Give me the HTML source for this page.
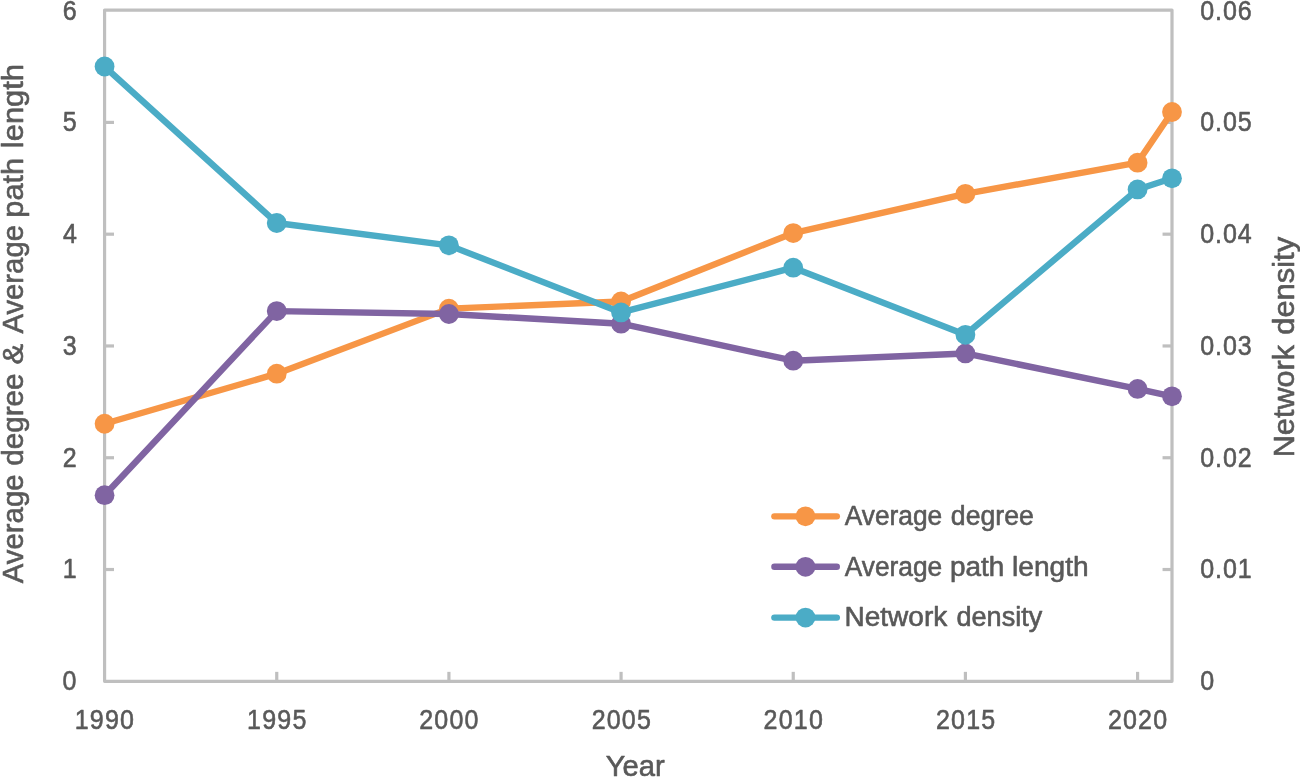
<!DOCTYPE html>
<html lang="en">
<head>
<meta charset="utf-8">
<title>Network metrics chart</title>
<style>
html,body{margin:0;padding:0;background:#fff;}
body{width:1300px;height:777px;overflow:hidden;}
svg{display:block;}
svg text{font-family:"Liberation Sans",Arial,sans-serif;fill:#595959;stroke:#595959;stroke-width:0.60px;stroke-linejoin:round;}
</style>
</head>
<body>
<svg width="1300" height="777" viewBox="0 0 1300 777">
<rect x="0" y="0" width="1300" height="777" fill="#ffffff"/>
<g fill="none" stroke="#BFBFBF" stroke-width="3.20" stroke-linecap="butt" stroke-linejoin="round">
<rect x="104.58" y="10.10" width="1067.42" height="671.20"/>
<line x1="104.58" y1="569.52" x2="114.03" y2="569.52"/>
<line x1="1172.00" y1="569.52" x2="1162.55" y2="569.52"/>
<line x1="104.58" y1="457.74" x2="114.03" y2="457.74"/>
<line x1="1172.00" y1="457.74" x2="1162.55" y2="457.74"/>
<line x1="104.58" y1="345.96" x2="114.03" y2="345.96"/>
<line x1="1172.00" y1="345.96" x2="1162.55" y2="345.96"/>
<line x1="104.58" y1="234.18" x2="114.03" y2="234.18"/>
<line x1="1172.00" y1="234.18" x2="1162.55" y2="234.18"/>
<line x1="104.58" y1="122.40" x2="114.03" y2="122.40"/>
<line x1="1172.00" y1="122.40" x2="1162.55" y2="122.40"/>
<line x1="276.74" y1="681.30" x2="276.74" y2="671.85"/>
<line x1="448.91" y1="681.30" x2="448.91" y2="671.85"/>
<line x1="621.07" y1="681.30" x2="621.07" y2="671.85"/>
<line x1="793.24" y1="681.30" x2="793.24" y2="671.85"/>
<line x1="965.40" y1="681.30" x2="965.40" y2="671.85"/>
<line x1="1137.57" y1="681.30" x2="1137.57" y2="671.85"/>
</g>
<g><polyline fill="none" stroke="#F79646" stroke-width="6.40" stroke-linejoin="round" stroke-linecap="round" points="104.58,423.76 276.74,373.68 448.91,308.63 621.07,301.47 793.24,233.06 965.40,193.83 1137.57,162.64 1172.00,112.00"/>
<circle cx="104.58" cy="423.76" r="9.90" fill="#F79646"/>
<circle cx="276.74" cy="373.68" r="9.90" fill="#F79646"/>
<circle cx="448.91" cy="308.63" r="9.90" fill="#F79646"/>
<circle cx="621.07" cy="301.47" r="9.90" fill="#F79646"/>
<circle cx="793.24" cy="233.06" r="9.90" fill="#F79646"/>
<circle cx="965.40" cy="193.83" r="9.90" fill="#F79646"/>
<circle cx="1137.57" cy="162.64" r="9.90" fill="#F79646"/>
<circle cx="1172.00" cy="112.00" r="9.90" fill="#F79646"/>
</g>
<g><polyline fill="none" stroke="#8064A2" stroke-width="6.40" stroke-linejoin="round" stroke-linecap="round" points="104.58,495.19 276.74,311.08 448.91,313.99 621.07,323.72 793.24,360.71 965.40,353.45 1137.57,388.88 1172.00,396.37"/>
<circle cx="104.58" cy="495.19" r="9.90" fill="#8064A2"/>
<circle cx="276.74" cy="311.08" r="9.90" fill="#8064A2"/>
<circle cx="448.91" cy="313.99" r="9.90" fill="#8064A2"/>
<circle cx="621.07" cy="323.72" r="9.90" fill="#8064A2"/>
<circle cx="793.24" cy="360.71" r="9.90" fill="#8064A2"/>
<circle cx="965.40" cy="353.45" r="9.90" fill="#8064A2"/>
<circle cx="1137.57" cy="388.88" r="9.90" fill="#8064A2"/>
<circle cx="1172.00" cy="396.37" r="9.90" fill="#8064A2"/>
</g>
<g><polyline fill="none" stroke="#4BACC6" stroke-width="6.40" stroke-linejoin="round" stroke-linecap="round" points="104.58,66.51 276.74,223.00 448.91,245.36 621.07,312.43 793.24,267.71 965.40,334.78 1137.57,189.47 1172.00,178.29"/>
<circle cx="104.58" cy="66.51" r="9.90" fill="#4BACC6"/>
<circle cx="276.74" cy="223.00" r="9.90" fill="#4BACC6"/>
<circle cx="448.91" cy="245.36" r="9.90" fill="#4BACC6"/>
<circle cx="621.07" cy="312.43" r="9.90" fill="#4BACC6"/>
<circle cx="793.24" cy="267.71" r="9.90" fill="#4BACC6"/>
<circle cx="965.40" cy="334.78" r="9.90" fill="#4BACC6"/>
<circle cx="1137.57" cy="189.47" r="9.90" fill="#4BACC6"/>
<circle cx="1172.00" cy="178.29" r="9.90" fill="#4BACC6"/>
</g>
<text y="524.90" font-size="26.80"><tspan x="844.70" textLength="97.47" lengthAdjust="spacingAndGlyphs">Average</tspan> <tspan x="950.87" textLength="82.91" lengthAdjust="spacingAndGlyphs">degree</tspan></text>
<text y="575.60" font-size="26.80"><tspan x="844.70" textLength="97.47" lengthAdjust="spacingAndGlyphs">Average</tspan> <tspan x="949.96" textLength="54.31" lengthAdjust="spacingAndGlyphs">path</tspan> <tspan x="1012.14" textLength="76.53" lengthAdjust="spacingAndGlyphs">length</tspan></text>
<text y="626.30" font-size="26.80"><tspan x="844.51" textLength="102.75" lengthAdjust="spacingAndGlyphs">Network</tspan> <tspan x="956.45" textLength="85.85" lengthAdjust="spacingAndGlyphs">density</tspan></text>
<text transform="translate(22.50,583.60) rotate(-90)" y="0" font-size="29.90"><tspan x="0.30" textLength="108.89" lengthAdjust="spacingAndGlyphs">Average</tspan> <tspan x="117.77" textLength="92.43" lengthAdjust="spacingAndGlyphs">degree</tspan> <tspan x="219.13" textLength="20.70" lengthAdjust="spacingAndGlyphs">&amp;</tspan> <tspan x="250.00" textLength="108.59" lengthAdjust="spacingAndGlyphs">Average</tspan> <tspan x="365.98" textLength="59.85" lengthAdjust="spacingAndGlyphs">path</tspan> <tspan x="435.47" textLength="84.17" lengthAdjust="spacingAndGlyphs">length</tspan></text>
<text transform="translate(1294.40,455.20) rotate(-90)" y="0" font-size="29.90"><tspan x="-2.09" textLength="112.42" lengthAdjust="spacingAndGlyphs">Network</tspan> <tspan x="120.43" textLength="97.87" lengthAdjust="spacingAndGlyphs">density</tspan></text>
<text y="776.30" font-size="29.90"><tspan x="605.64" textLength="59.10" lengthAdjust="spacingAndGlyphs">Year</tspan></text>
<text transform="translate(62.51,690.45) scale(0.890,1)" font-size="28.10" letter-spacing="1.338">0</text>
<text transform="translate(62.80,578.32) scale(0.890,1)" font-size="28.10" letter-spacing="1.338">1</text>
<text transform="translate(62.65,466.54) scale(0.890,1)" font-size="28.10" letter-spacing="1.338">2</text>
<text transform="translate(62.65,354.76) scale(0.890,1)" font-size="28.10" letter-spacing="1.338">3</text>
<text transform="translate(63.01,242.98) scale(0.890,1)" font-size="28.10" letter-spacing="1.338">4</text>
<text transform="translate(62.65,131.20) scale(0.890,1)" font-size="28.10" letter-spacing="1.338">5</text>
<text transform="translate(62.85,19.50) scale(0.890,1)" font-size="28.10" letter-spacing="1.338">6</text>
<text transform="translate(1200.22,690.45) scale(0.890,1)" font-size="28.10" letter-spacing="1.338">0</text>
<text transform="translate(1200.22,578.32) scale(0.890,1)" font-size="28.10" letter-spacing="1.068">0.01</text>
<text transform="translate(1200.22,466.54) scale(0.890,1)" font-size="28.10" letter-spacing="1.068">0.02</text>
<text transform="translate(1200.22,354.76) scale(0.890,1)" font-size="28.10" letter-spacing="1.068">0.03</text>
<text transform="translate(1200.22,242.98) scale(0.890,1)" font-size="28.10" letter-spacing="1.068">0.04</text>
<text transform="translate(1200.22,131.20) scale(0.890,1)" font-size="28.10" letter-spacing="1.068">0.05</text>
<text transform="translate(1200.22,19.50) scale(0.890,1)" font-size="28.10" letter-spacing="1.068">0.06</text>
<text transform="translate(74.76,729.20) scale(0.890,1)" font-size="28.10" letter-spacing="1.338">1990</text>
<text transform="translate(247.12,729.20) scale(0.890,1)" font-size="28.10" letter-spacing="1.338">1995</text>
<text transform="translate(419.28,729.20) scale(0.890,1)" font-size="28.10" letter-spacing="1.338">2000</text>
<text transform="translate(591.64,729.20) scale(0.890,1)" font-size="28.10" letter-spacing="1.338">2005</text>
<text transform="translate(763.61,729.20) scale(0.890,1)" font-size="28.10" letter-spacing="1.338">2010</text>
<text transform="translate(935.97,729.20) scale(0.890,1)" font-size="28.10" letter-spacing="1.338">2015</text>
<text transform="translate(1107.94,729.20) scale(0.890,1)" font-size="28.10" letter-spacing="1.338">2020</text>
<line x1="774.4" y1="516.35" x2="836.8" y2="516.35" stroke="#F79646" stroke-width="6.4" stroke-linecap="round"/>
<circle cx="805.5" cy="516.35" r="9.90" fill="#F79646"/>
<line x1="774.4" y1="566.80" x2="836.8" y2="566.80" stroke="#8064A2" stroke-width="6.4" stroke-linecap="round"/>
<circle cx="805.5" cy="566.80" r="9.90" fill="#8064A2"/>
<line x1="774.4" y1="617.60" x2="836.8" y2="617.60" stroke="#4BACC6" stroke-width="6.4" stroke-linecap="round"/>
<circle cx="805.5" cy="617.60" r="9.90" fill="#4BACC6"/>
</svg>
</body>
</html>
